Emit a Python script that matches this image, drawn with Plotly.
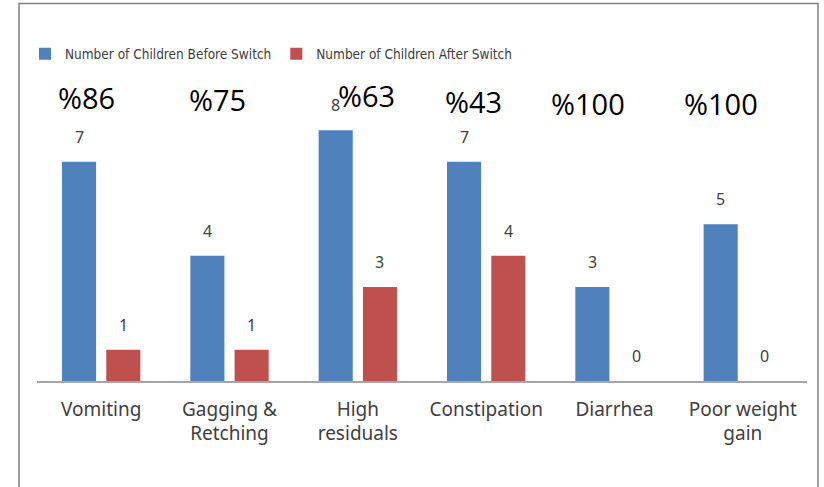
import plotly.graph_objects as go

categories = ["Vomiting", "Gagging &<br>Retching", "High<br>residuals", "Constipation", "Diarrhea", "Poor weight<br>gain"]
before = [7, 4, 8, 7, 3, 5]
after = [1, 1, 3, 4, 0, 0]
pct_labels = ["%86", "%75", "%63", "%43", "%100", "%100"]

# layout helpers (pixel offsets for overlay texts)
pct_xshift = [-15, -12, 9, -13, -27, -22]
pct_ypx = [97.5, 99, 96, 101, 103.5, 103.5]

BLUE = "#4F81BD"
RED = "#C0504D"
L, R, T, B = 37, 17, 99, 106
W, H = 824, 487
plot_h = H - T - B
plot_w = W - L - R
base_y = H - B

fig = go.Figure()
fig.add_trace(go.Bar(x=categories, y=before, name="Number of Children Before Switch",
                     marker=dict(color=BLUE, line=dict(width=0))))
fig.add_trace(go.Bar(x=categories, y=after, name="Number of Children After Switch",
                     marker=dict(color=RED, line=dict(width=0))))

ann = []
for c, b, a in zip(categories, before, after):
    ann.append(dict(x=c, y=b, xref="x", yref="y", text=str(b), showarrow=False,
                    xshift=-22, yshift=25, font=dict(family="Noto Sans", size=16, color="#404040")))
    ann.append(dict(x=c, y=a, xref="x", yref="y", text=str(a), showarrow=False,
                    xshift=22, yshift=25, font=dict(family="Noto Sans", size=16, color="#404040")))
for c, p, dx, py in zip(categories, pct_labels, pct_xshift, pct_ypx):
    ann.append(dict(x=c, y=(base_y - py) / plot_h, xref="x", yref="paper", text=p, showarrow=False,
                    xshift=dx, yanchor="middle", font=dict(family="Open Sans", size=29, color="#000000")))

fig.update_layout(
    width=W, height=H,
    margin=dict(l=L, r=R, t=T, b=B),
    paper_bgcolor="white", plot_bgcolor="white",
    barmode="group", bargap=0.31, bargroupgap=0.23,
    showlegend=True,
    legend=dict(orientation="h", x=(25 - L) / plot_w, xanchor="left",
                y=(base_y - 54) / plot_h, yanchor="middle",
                font=dict(family="Liberation Sans Narrow, DejaVu Sans Condensed, Noto Sans", size=13.5, color="#404040"),
                itemwidth=30, bgcolor="rgba(0,0,0,0)"),
    xaxis=dict(showline=True, linecolor="#A6A6A6", linewidth=1.5, ticks="",
               showgrid=False, zeroline=False, ticklabelstandoff=10,
               tickfont=dict(family="Noto Sans", size=19, color="#404040")),
    yaxis=dict(range=[0, 9], visible=False, showgrid=False, zeroline=False),
    annotations=ann,
    shapes=[dict(type="rect", xref="paper", yref="paper",
                 x0=(19 - L) / plot_w, x1=(818 - L) / plot_w,
                 y0=(base_y - 500) / plot_h, y1=(base_y - 3.5) / plot_h,
                 line=dict(color="#808080", width=1.5), fillcolor="rgba(0,0,0,0)", layer="below")],
)

fig.write_html("out.html")
